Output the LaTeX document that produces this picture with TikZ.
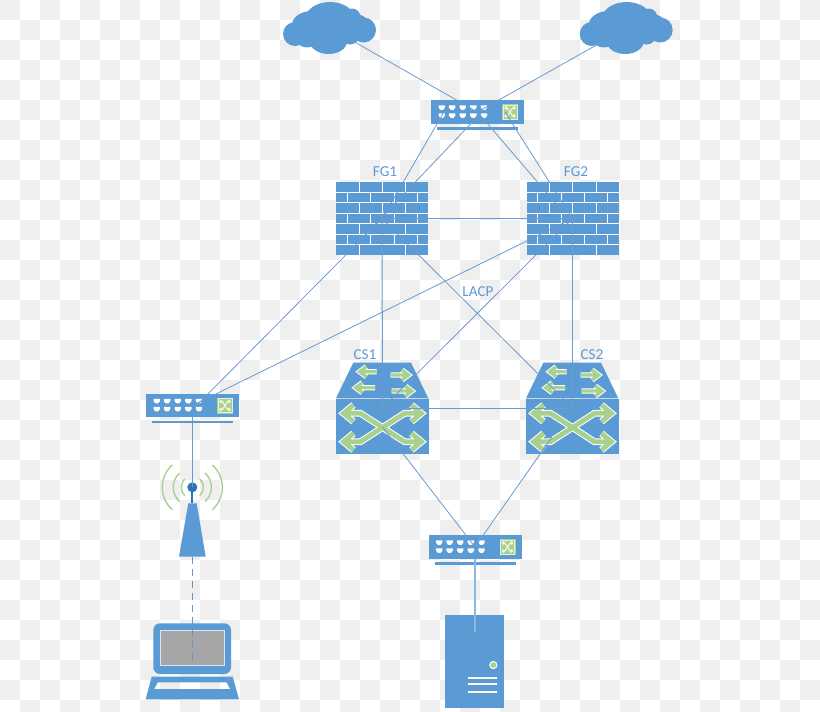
\documentclass[tikz,border=0pt]{standalone}
\usepackage{fontspec}
\setmainfont{Carlito}
\definecolor{blu}{HTML}{5B9BD5}
\definecolor{grn}{HTML}{A9D18E}
\definecolor{chk}{HTML}{EFEFEF}
\definecolor{lnk}{HTML}{6A9AD0}
\definecolor{dark}{HTML}{2E75B6}
\tikzset{
  px/.style={line width=#1*0.75pt},
  anchorbox/.style={inner sep=0pt,outer sep=0pt,minimum width=#1*0.75pt},
  link/.style={draw=lnk,px=0.8},
  wlink/.style={draw=lnk,px=1},
  srvlink/.style={draw=blu!70!white,px=2},
  radio/.style={draw=lnk!80!gray,px=1,dash pattern=on 5.5pt off 3.5pt},
  lbl/.style={text=blu,font=\fontsize{11.4}{13}\selectfont,inner sep=0pt},
  wave/.style={draw=grn,px=1.4},
}
% small green arrow: tip x, tail x, y
\newcommand\sarrow[3]{%
  \pgfmathsetmacro\hx{#1+((#2)>(#1)?8:-8)}%
  \pgfmathsetmacro\tx{#1+((#2)>(#1)?1.5:-1.5)}%
  \draw[white,px=5.4,line join=miter] (#2,#3)--(\tx,#3) (\hx,#3-5)--(\tx,#3)--(\hx,#3+5);
  \draw[grn,px=3.4,line join=miter] (#2,#3)--(\tx,#3) (\hx,#3-5)--(\tx,#3)--(\hx,#3+5);
}
\newcommand\xpaths{%
 (-36,5.3)--(-22,5.3)--(22,33.7)--(36,33.7)
 (-36,33.7)--(-22,33.7)--(22,5.3)--(36,5.3)
 (-29,-3)--(-39,5.3)--(-29,13.6)
 (-29,25.4)--(-39,33.7)--(-29,42)
 (29,-3)--(39,5.3)--(29,13.6)
 (29,25.4)--(39,33.7)--(29,42)
}
\tikzset{
 swport/.pic={\fill[white] (-3.2,-2.2)--(3.2,-2.2)--(3.2,0)--(1.4,2.2)--(-1.4,2.2)--(-3.2,0)--cycle;},
 switchicon/.pic={
  \fill[blu] (-46.5,-11.8) rectangle (46.5,11.8);
  \fill[blu] (-40.5,15) rectangle (40.5,17.6);
  \foreach \xx in {-35.8,-25.4,-14.8,-4.2,6.5}{
    \pic at (\xx,-4.4) {swport};
    \pic at (\xx,3.6) {swport};
  }
  \fill[grn] (24.5,-8) rectangle (40.5,8);
  \draw[white!70!grn,px=1] (25.5,-7) rectangle (39.5,7);
  \draw[white!80!grn,px=1.1] (27.5,-4)--(30,-4)--(35,4)--(37.5,4) (27.5,4)--(30,4)--(35,-4)--(37.5,-4)
     (29,-5.5)--(27.5,-4)--(29,-2.5) (29,2.5)--(27.5,4)--(29,5.5)
     (36,-5.5)--(37.5,-4)--(36,-2.5) (36,2.5)--(37.5,4)--(36,5.5);
 },
 cloudicon/.pic={
  \fill[blu] (-35,6) circle (12)
   (0,-8.5) ellipse (25 and 17.5)
   (22,-11) circle (8.5)
   (33.5,2) circle (12.5)
   (-1.5,13.5) ellipse (18.5 and 12.5)
   (-23,10) ellipse (11 and 9.5)
   (20,7) circle (9.5)
   (2,3) ellipse (36 and 14)
   (-18,-3) ellipse (20 and 14)
   (24,-4) ellipse (15 and 10);
 },
 firewall/.pic={
  \fill[blu] (-46,-36.5) rectangle (46,36.5);
  \foreach \r in {1,...,6}{\draw[white,px=1] (-46,-36.5+\r*10.43)--(46,-36.5+\r*10.43);}
  \foreach \r/\lst in {0/{-22.7,0.3,23.7},1/{-34.7,-11.3,12,35.3},2/{-22.7,0.3,23.7},3/{-34.7,-11.3,12,35.3},4/{-22.7,23.7},5/{-34.7,-11.3,12,35.3},6/{-22.7,23.7}}{
    \foreach \xx in \lst {\draw[white,px=1] (\xx,-36.5+\r*10.43)--(\xx,-36.5+\r*10.43+10.43);}
  }
 },
 coreswitch/.pic={
  \fill[blu] (-29.2,-45.3)--(28.5,-45.3)--(45.8,-9.7)--(-46.5,-9.7)--cycle;
  \fill[blu] (-46.5,-8.7) rectangle (46.5,46);
  \sarrow{-24.2}{-5.8}{-36.3}
  \sarrow{-28.2}{-7.5}{-20.3}
  \sarrow{27.5}{8.2}{-33}
  \sarrow{30.8}{9.2}{-17}
  \draw[white,px=6.8,line join=miter] \xpaths;
  \draw[grn,px=4.8,line join=miter] \xpaths;
 },
}
\begin{document}
\begin{tikzpicture}[x=0.75pt,y=-0.75pt]
\useasboundingbox (0,0) rectangle (820,711);
\fill[white] (0,0) rectangle (820,711);
\foreach \i in {0,...,40}{\foreach \j in {0,...,35}{
  \pgfmathtruncatemacro\pp{mod(\i+\j,2)}
  \ifnum\pp=0 \fill[chk] (\i*20,\j*20) rectangle (\i*20+20,\j*20+20);\fi
}}
% nodes
\node[anchorbox=93] (cloudA) at (330,28) {};
\node[anchorbox=93] (cloudB) at (626.7,28) {};
\node[anchorbox=93] (swTop) at (477.5,112) {};
\node[anchorbox=93] (fgA) at (382,218.5) {};
\node[anchorbox=93] (fgB) at (572.5,218.5) {};
\node[anchorbox=93] (csA) at (382.5,408) {};
\node[anchorbox=93] (csB) at (572.5,408) {};
\node[anchorbox=93] (swLeft) at (192.5,405.5) {};
\node[anchorbox=93] (swBot) at (475,547) {};
\node[anchorbox=10] (ant) at (192.3,487.3) {};
\node[anchorbox=26] (tower) at (192.3,557) {};
\node[anchorbox=93] (laptop) at (192.3,662) {};
\node[anchorbox=59] (server) at (475,632) {};
% icons
\pic at (cloudA) {cloudicon};
\pic at (cloudB) {cloudicon};
\pic at (swTop) {switchicon};
\pic at (swLeft) {switchicon};
\pic at (swBot) {switchicon};
\pic at (fgA) {firewall};
\pic at (fgB) {firewall};
\pic at (csA) {coreswitch};
\pic at (csB) {coreswitch};
% antenna
\fill[blu] (188.3,503.3)--(196.7,503.3)--(205.7,556.7)--(179,556.7)--cycle;
\draw[dark,px=2] (ant.center)--(192.3,503);
\fill[dark] (ant.center) circle (5);
\foreach \rr in {11,19,30}{
  \draw[wave,domain=-48:48,samples=25,smooth] plot ({192.3+\rr*cos(\x)},{487.3+\rr*sin(\x)});
  \draw[wave,domain=132:228,samples=25,smooth] plot ({192.3+\rr*cos(\x)},{487.3+\rr*sin(\x)});
}
% laptop
\fill[blu,rounded corners=5pt] (153.3,674)--(153.3,623.3)--(231,623.3)--(231,674)--cycle;
\fill[gray!70,draw=white!75!blu,px=1] (160.7,630.7) rectangle (224.3,665.7);
\fill[blu,even odd rule] (151.7,676.7)--(232.7,676.7)--(239,699.3)--(145.7,699.3)--cycle
   (157.7,682.3)--(226.7,682.3)--(230,689)--(154.3,689)--cycle;
% server
\fill[blu] (445.3,615) rectangle (504.3,708);
\fill[grn,draw=white,px=1] (493.3,665) circle (3.6);
\foreach \yy in {677.7,684.3,691.7}{\draw[white,px=2] (467.7,\yy)--(497.3,\yy);}
% connector ends
\coordinate (tA) at (444,112);
\coordinate (tB) at (480,114);
\coordinate (tD) at (505,112);
\coordinate (fA) at (363,237);
\coordinate (fB) at (564,213);
\coordinate (lA) at (197,405);
\coordinate (cA) at (382.5,427);
\coordinate (cB) at (552,437);
\coordinate (sL) at (192.3,417);
\coordinate (sB) at (475,559);
% connectors
\draw[link] (cloudA.center)--(swTop.center);
\draw[link] (cloudB.center)--(swTop.center);
\draw[link] (tA)--(fgA.center);
\draw[link] (tB)--(fA);
\draw[link] (swTop.center)--(fB);
\draw[link] (tD)--(fgB.center);
\draw[wlink] (fgA.center)--(fgB.center);
\draw[wlink] (fgA.center)--(csA.center);
\draw[wlink] (fgB.center)--(csB.center);
\draw[link] (fgA.center)--(csB.center);
\draw[link] (fgB.center)--(csA.center);
\draw[link] (fgA.center)--(lA);
\draw[link] (fgB.center)--(swLeft.center);
\draw[wlink] (csA.center)--(csB.center);
\draw[link] (cA)--(swBot.center);
\draw[link] (cB)--(swBot.center);
\draw[wlink] (sL)--(ant.center);
\draw[radio] (tower.center)--(laptop.center);
\draw[srvlink] (sB)--(server.center);
% labels
\node[lbl] (lblA) at (385,171.5) {FG1};
\node[lbl] (lblB) at (576,171.5) {FG2};
\node[lbl] (lblC) at (478,291.5) {LACP};
\node[lbl] (lblD) at (365,354.5) {CS1};
\node[lbl] (lblE) at (592,354.5) {CS2};
\end{tikzpicture}
\end{document}
